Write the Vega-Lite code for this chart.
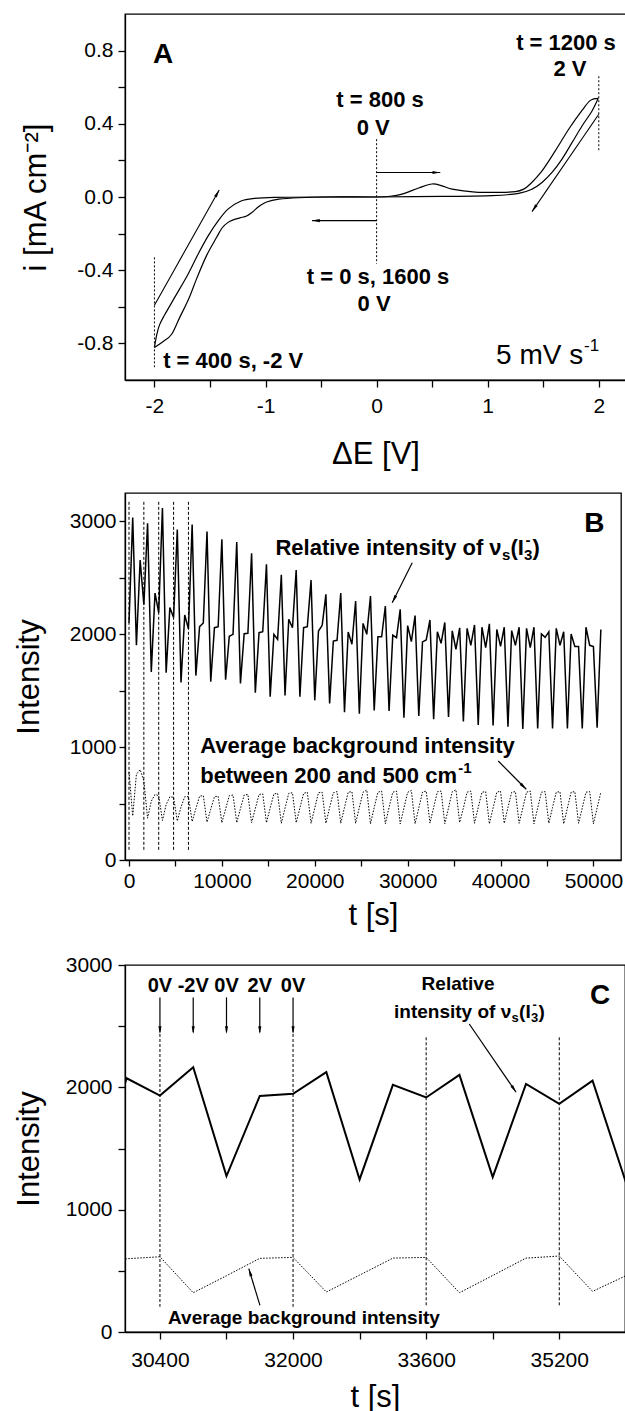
{
"$schema": "https://vega.github.io/schema/vega-lite/v6.json",
"padding": {"left": 12, "top": 13, "right": 1, "bottom": 0},
"background": "white",
"config": {
  "font": "Liberation Sans",
  "view": {"stroke": "black", "strokeWidth": 1.3},
  "axis": {"domainColor": "black", "domainWidth": 1.3, "tickColor": "black", "tickWidth": 1.3, "labelColor": "black", "titleColor": "black", "labelFont": "Liberation Sans", "titleFont": "Liberation Sans", "labelFontSize": 21, "titleFontSize": 31, "titleFontWeight": "normal", "grid": false, "labelOverlap": false, "labelFlush": false, "labelBound": false},
  "text": {"font": "Liberation Sans", "color": "black"}
},
"datasets": {
  "cv": [
    {"br":"a","o":0,"E":0,"i":0},{"br":"a","o":1,"E":-0.42,"i":0},{"br":"a","o":2,"E":-0.70,"i":-0.004},{"br":"a","o":3,"E":-0.88,"i":-0.012},{"br":"a","o":4,"E":-0.99,"i":-0.027},{"br":"a","o":5,"E":-1.06,"i":-0.052},{"br":"a","o":6,"E":-1.12,"i":-0.083},{"br":"a","o":7,"E":-1.17,"i":-0.104},{"br":"a","o":8,"E":-1.23,"i":-0.114},{"br":"a","o":9,"E":-1.29,"i":-0.125},{"br":"a","o":10,"E":-1.34,"i":-0.14},{"br":"a","o":11,"E":-1.39,"i":-0.168},{"br":"a","o":12,"E":-1.44,"i":-0.22},{"br":"a","o":13,"E":-1.53,"i":-0.319},{"br":"a","o":14,"E":-1.62,"i":-0.446},{"br":"a","o":15,"E":-1.69,"i":-0.555},{"br":"a","o":16,"E":-1.77,"i":-0.655},{"br":"a","o":17,"E":-1.845,"i":-0.75},{"br":"a","o":18,"E":-1.924,"i":-0.791},{"br":"a","o":19,"E":-2.0,"i":-0.822},
    {"br":"b","o":0,"E":-2.0,"i":-0.822},{"br":"b","o":1,"E":-1.98,"i":-0.755},{"br":"b","o":2,"E":-1.955,"i":-0.7},{"br":"b","o":3,"E":-1.91,"i":-0.646},{"br":"b","o":4,"E":-1.815,"i":-0.546},{"br":"b","o":5,"E":-1.695,"i":-0.419},{"br":"b","o":6,"E":-1.605,"i":-0.31},{"br":"b","o":7,"E":-1.515,"i":-0.211},{"br":"b","o":8,"E":-1.425,"i":-0.129},{"br":"b","o":9,"E":-1.335,"i":-0.065},{"br":"b","o":10,"E":-1.22,"i":-0.022},{"br":"b","o":11,"E":-1.10,"i":-0.008},{"br":"b","o":12,"E":-0.92,"i":-0.002},{"br":"b","o":13,"E":-0.56,"i":0},{"br":"b","o":14,"E":0,"i":0},
    {"br":"c","o":0,"E":0,"i":0},{"br":"c","o":1,"E":0.12,"i":0.004},{"br":"c","o":2,"E":0.229,"i":0.016},{"br":"c","o":3,"E":0.379,"i":0.049},{"br":"c","o":4,"E":0.499,"i":0.071},{"br":"c","o":5,"E":0.589,"i":0.061},{"br":"c","o":6,"E":0.679,"i":0.043},{"br":"c","o":7,"E":0.888,"i":0.027},{"br":"c","o":8,"E":1.099,"i":0.025},{"br":"c","o":9,"E":1.249,"i":0.029},{"br":"c","o":10,"E":1.324,"i":0.043},{"br":"c","o":11,"E":1.383,"i":0.071},{"br":"c","o":12,"E":1.489,"i":0.143},{"br":"c","o":13,"E":1.608,"i":0.252},{"br":"c","o":14,"E":1.729,"i":0.37},{"br":"c","o":15,"E":1.849,"i":0.473},{"br":"c","o":16,"E":1.924,"i":0.528},{"br":"c","o":17,"E":1.995,"i":0.539},
    {"br":"d","o":0,"E":1.995,"i":0.539},{"br":"d","o":1,"E":1.939,"i":0.47},{"br":"d","o":2,"E":1.849,"i":0.388},{"br":"d","o":3,"E":1.759,"i":0.297},{"br":"d","o":4,"E":1.669,"i":0.207},{"br":"d","o":5,"E":1.579,"i":0.134},{"br":"d","o":6,"E":1.489,"i":0.079},{"br":"d","o":7,"E":1.399,"i":0.043},{"br":"d","o":8,"E":1.279,"i":0.02},{"br":"d","o":9,"E":1.039,"i":0.007},{"br":"d","o":10,"E":0.589,"i":0.003},{"br":"d","o":11,"E":0,"i":0}
  ],
  "ts": [
    {"t":0,"rel":2100,"bg":780},{"t":400,"rel":3030,"bg":390},{"t":800,"rel":1900,"bg":760},{"t":1200,"rel":2655,"bg":800},
    {"t":1600,"rel":2260,"bg":700},{"t":2000,"rel":2980,"bg":370},{"t":2400,"rel":1665,"bg":520},{"t":2800,"rel":2362,"bg":580},
    {"t":3200,"rel":2190,"bg":570},{"t":3600,"rel":3115,"bg":350},{"t":4000,"rel":1658,"bg":490},{"t":4400,"rel":2235,"bg":560},
    {"t":4800,"rel":2146,"bg":555},{"t":5200,"rel":2925,"bg":345},{"t":5600,"rel":1572,"bg":470},{"t":6000,"rel":2168,"bg":560},
    {"t":6400,"rel":2045,"bg":560},{"t":6800,"rel":2968,"bg":340},{"t":7200,"rel":1632,"bg":455},{"t":7600,"rel":2065,"bg":565},
    {"t":8000,"rel":2098,"bg":570},{"t":8400,"rel":2908,"bg":335},{"t":8800,"rel":1578,"bg":450},{"t":9200,"rel":2056,"bg":560},
    {"t":9600,"rel":2065,"bg":565},{"t":10000,"rel":2838,"bg":330},{"t":10400,"rel":1596,"bg":450},{"t":10800,"rel":1980,"bg":570},
    {"t":11200,"rel":1997,"bg":575},{"t":11600,"rel":2814,"bg":330},{"t":12000,"rel":1563,"bg":455},{"t":12400,"rel":2003,"bg":575},
    {"t":12800,"rel":2006,"bg":580},{"t":13200,"rel":2714,"bg":330},{"t":13600,"rel":1481,"bg":455},{"t":14000,"rel":2012,"bg":580},
    {"t":14400,"rel":2021,"bg":585},{"t":14800,"rel":2617,"bg":330},{"t":15200,"rel":1445,"bg":460},{"t":15600,"rel":1997,"bg":585},
    {"t":16000,"rel":1953,"bg":590},{"t":16400,"rel":2525,"bg":325},{"t":16800,"rel":1457,"bg":460},{"t":17200,"rel":2130,"bg":590},
    {"t":17600,"rel":2056,"bg":595},{"t":18000,"rel":2566,"bg":330},{"t":18400,"rel":1445,"bg":460},{"t":18800,"rel":2056,"bg":590},
    {"t":19200,"rel":2065,"bg":600},{"t":19600,"rel":2478,"bg":325},{"t":20000,"rel":1413,"bg":460},{"t":20400,"rel":2027,"bg":595},
    {"t":20800,"rel":2077,"bg":600},{"t":21200,"rel":2351,"bg":325},{"t":21600,"rel":1386,"bg":465},{"t":22000,"rel":1938,"bg":595},
    {"t":22400,"rel":1944,"bg":605},{"t":22800,"rel":2363,"bg":325},{"t":23200,"rel":1307,"bg":465},{"t":23600,"rel":2018,"bg":600},
    {"t":24000,"rel":1909,"bg":605},{"t":24400,"rel":2292,"bg":325},{"t":24800,"rel":1295,"bg":465},{"t":25200,"rel":2094,"bg":600},
    {"t":25600,"rel":1997,"bg":620},{"t":26000,"rel":2336,"bg":320},{"t":26400,"rel":1324,"bg":465},{"t":26800,"rel":1976,"bg":600},
    {"t":27200,"rel":1976,"bg":610},{"t":27600,"rel":2248,"bg":320},{"t":28000,"rel":1319,"bg":465},{"t":28400,"rel":1991,"bg":600},
    {"t":28800,"rel":1968,"bg":610},{"t":29200,"rel":2218,"bg":320},{"t":29600,"rel":1260,"bg":460},{"t":30000,"rel":2074,"bg":599},
    {"t":30400,"rel":1933,"bg":615},{"t":30800,"rel":2164,"bg":321},{"t":31200,"rel":1274,"bg":460},{"t":31600,"rel":1930,"bg":602},
    {"t":32000,"rel":1947,"bg":610},{"t":32400,"rel":2124,"bg":327},{"t":32800,"rel":1247,"bg":465},{"t":33200,"rel":2020,"bg":604},
    {"t":33600,"rel":1917,"bg":610},{"t":34000,"rel":2102,"bg":321},{"t":34400,"rel":1266,"bg":462},{"t":34800,"rel":2028,"bg":604},
    {"t":35200,"rel":1865,"bg":621},{"t":35600,"rel":2055,"bg":332},{"t":36000,"rel":1225,"bg":460},{"t":36400,"rel":2050,"bg":600},
    {"t":36800,"rel":1900,"bg":610},{"t":37200,"rel":2080,"bg":325},{"t":37600,"rel":1195,"bg":465},{"t":38000,"rel":2060,"bg":600},
    {"t":38400,"rel":1880,"bg":605},{"t":38800,"rel":2090,"bg":320},{"t":39200,"rel":1190,"bg":460},{"t":39600,"rel":2040,"bg":600},
    {"t":40000,"rel":1890,"bg":610},{"t":40400,"rel":2060,"bg":325},{"t":40800,"rel":1180,"bg":465},{"t":41200,"rel":2030,"bg":600},
    {"t":41600,"rel":1900,"bg":605},{"t":42000,"rel":2060,"bg":325},{"t":42400,"rel":1160,"bg":460},{"t":42800,"rel":2050,"bg":600},
    {"t":43200,"rel":1880,"bg":610},{"t":43600,"rel":2060,"bg":320},{"t":44000,"rel":1165,"bg":460},{"t":44400,"rel":2000,"bg":600},
    {"t":44800,"rel":1970,"bg":605},{"t":45200,"rel":2020,"bg":325},{"t":45600,"rel":1165,"bg":465},{"t":46000,"rel":2050,"bg":600},
    {"t":46400,"rel":1900,"bg":605},{"t":46800,"rel":2020,"bg":320},{"t":47200,"rel":1165,"bg":460},{"t":47600,"rel":2000,"bg":600},
    {"t":48000,"rel":1890,"bg":605},{"t":48400,"rel":1890,"bg":325},{"t":48800,"rel":1165,"bg":460},{"t":49200,"rel":2060,"bg":600},
    {"t":49600,"rel":1900,"bg":605},{"t":50000,"rel":1890,"bg":320},{"t":50400,"rel":1170,"bg":460},{"t":50800,"rel":2040,"bg":600}
  ]
},
"bounds": "flush",
"spacing": 113,
"vconcat": [
  {
    "width": 501, "height": 366,
    "layer": [
      {"data": {"name": "cv"}, "mark": {"type": "line", "color": "black", "strokeWidth": 1.2, "interpolate": "cardinal"},
       "encoding": {
         "x": {"field": "E", "type": "quantitative", "title": "ΔE [V]", "scale": {"domain": [-2.265, 2.245], "nice": false, "zero": false},
               "axis": {"values": [-2, -1.5, -1, -0.5, 0, 0.5, 1, 1.5, 2], "labelExpr": "datum.value % 1 == 0 ? replace(format(datum.value, 'd'), '\u2212', '-') : ''", "tickSize": 7, "labelPadding": 8, "titlePadding": 23}},
         "y": {"field": "i", "type": "quantitative", "title": "i  [mA cm⁻²]", "scale": {"domain": [-1, 1], "nice": false, "zero": false},
               "axis": {"values": [-0.8, -0.6, -0.4, -0.2, 0, 0.2, 0.4, 0.6, 0.8], "labelExpr": "abs(round(datum.value * 10)) % 4 == 0 ? replace(format(datum.value, '.1f'), '\u2212', '-') : ''", "tickSize": 7, "labelPadding": 5, "titlePadding": 24}},
         "detail": {"field": "br"},
         "order": {"field": "o"}
       }},
      {"data": {"values": [{"x": -2, "y": -0.33, "y2": -0.93}, {"x": 0, "y": 0.316, "y2": -0.365}, {"x": 2, "y": 0.66, "y2": 0.252}]},
       "mark": {"type": "rule", "color": "black", "strokeWidth": 1, "strokeDash": [2, 2]},
       "encoding": {"x": {"field": "x", "type": "quantitative"}, "y": {"field": "y", "type": "quantitative"}, "y2": {"field": "y2"}}},
      {"data": {"values": [{"x": 0, "y": 0.134, "x2": 0.573, "y2": 0.134}, {"x": 0, "y": -0.129, "x2": -0.581, "y2": -0.129}, {"x": -2, "y": -0.591, "x2": -1.417, "y2": 0.038}, {"x": 2, "y": 0.452, "x2": 1.399, "y2": -0.08}]},
       "mark": {"type": "rule", "color": "black", "strokeWidth": 1.1},
       "encoding": {"x": {"field": "x", "type": "quantitative"}, "y": {"field": "y", "type": "quantitative"}, "x2": {"field": "x2"}, "y2": {"field": "y2"}}},
      {"data": {"values": [{}]}, "mark": {"type": "point", "shape": "M0,0L-0.4,2L0.4,2Z", "filled": true, "color": "black", "opacity": 1, "size": 60, "angle": 90},
       "encoding": {"x": {"datum": 0.573, "type": "quantitative"}, "y": {"datum": 0.134, "type": "quantitative"}}},
      {"data": {"values": [{}]}, "mark": {"type": "point", "shape": "M0,0L-0.4,2L0.4,2Z", "filled": true, "color": "black", "opacity": 1, "size": 60, "angle": 270},
       "encoding": {"x": {"datum": -0.581, "type": "quantitative"}, "y": {"datum": -0.129, "type": "quantitative"}}},
      {"data": {"values": [{}]}, "mark": {"type": "point", "shape": "M0,0L-0.4,2L0.4,2Z", "filled": true, "color": "black", "opacity": 1, "size": 60, "angle": 29},
       "encoding": {"x": {"datum": -1.417, "type": "quantitative"}, "y": {"datum": 0.038, "type": "quantitative"}}},
      {"data": {"values": [{}]}, "mark": {"type": "point", "shape": "M0,0L-0.4,2L0.4,2Z", "filled": true, "color": "black", "opacity": 1, "size": 60, "angle": 214},
       "encoding": {"x": {"datum": 1.399, "type": "quantitative"}, "y": {"datum": -0.08, "type": "quantitative"}}},
      {"data": {"values": [{"x": 1.705, "y": 0.842, "label": "t = 1200 s"}, {"x": 1.741, "y": 0.697, "label": "2 V"}, {"x": 0.031, "y": 0.528, "label": "t = 800 s"}, {"x": -0.031, "y": 0.379, "label": "0 V"}, {"x": 0.013, "y": -0.437, "label": "t = 0 s, 1600 s"}, {"x": -0.023, "y": -0.582, "label": "0 V"}, {"x": -1.291, "y": -0.896, "label": "t = 400 s, -2 V"}]},
       "mark": {"type": "text", "fontSize": 22, "fontWeight": "bold", "align": "center", "baseline": "middle"},
       "encoding": {"x": {"field": "x", "type": "quantitative"}, "y": {"field": "y", "type": "quantitative"}, "text": {"field": "label"}}},
      {"data": {"values": [{}]}, "mark": {"type": "text", "text": "A", "fontSize": 28, "fontWeight": "bold", "align": "center", "baseline": "middle"},
       "encoding": {"x": {"datum": -1.921, "type": "quantitative"}, "y": {"datum": 0.778, "type": "quantitative"}}},
      {"data": {"values": [{}]}, "mark": {"type": "text", "text": "5 mV s", "fontSize": 28, "align": "left", "baseline": "alphabetic"},
       "encoding": {"x": {"datum": 1.075, "type": "quantitative"}, "y": {"datum": -0.913, "type": "quantitative"}}},
      {"data": {"values": [{}]}, "mark": {"type": "text", "text": "-1", "fontSize": 17, "align": "left", "baseline": "alphabetic", "dx": 88, "dy": -13},
       "encoding": {"x": {"datum": 1.075, "type": "quantitative"}, "y": {"datum": -0.913, "type": "quantitative"}}}
    ]
  },
  {
    "bounds": "flush",
    "spacing": 105,
    "vconcat": [
      {
        "width": 496, "height": 367,
        "layer": [
          {"data": {"name": "ts"}, "mark": {"type": "line", "color": "black", "strokeWidth": 1.5},
           "encoding": {
             "x": {"field": "t", "type": "quantitative", "title": "t [s]", "scale": {"domain": [-430, 52970], "nice": false, "zero": false},
                   "axis": {"values": [0, 5000, 10000, 15000, 20000, 25000, 30000, 35000, 40000, 45000, 50000], "labelExpr": "datum.value % 10000 == 0 ? format(datum.value, 'd') : ''", "tickSize": 6, "labelPadding": 4, "titlePadding": 9}},
             "y": {"field": "rel", "type": "quantitative", "title": "Intensity", "scale": {"domain": [0, 3248], "nice": false, "zero": false},
                   "axis": {"values": [0, 500, 1000, 1500, 2000, 2500, 3000], "labelExpr": "datum.value % 1000 == 0 ? format(datum.value, 'd') : ''", "tickSize": 6, "labelPadding": 3, "titlePadding": 24}}
           }},
          {"data": {"name": "ts"}, "mark": {"type": "line", "color": "black", "strokeWidth": 1, "strokeDash": [1.5, 1.5]},
           "encoding": {"x": {"field": "t", "type": "quantitative"}, "y": {"field": "bg", "type": "quantitative"}}},
          {"data": {"values": [{"t": 0}, {"t": 1600}, {"t": 3200}, {"t": 4800}, {"t": 6400}]},
           "mark": {"type": "rule", "color": "black", "strokeWidth": 1, "strokeDash": [3, 2]},
           "encoding": {"x": {"field": "t", "type": "quantitative"}, "y": {"datum": 3170, "type": "quantitative"}, "y2": {"datum": 80}}},
          {"data": {"values": [{"x": 30494, "y": 2631, "x2": 28340, "y2": 2277}, {"x": 39754, "y": 876, "x2": 42769, "y2": 626}]},
           "mark": {"type": "rule", "color": "black", "strokeWidth": 1.2},
           "encoding": {"x": {"field": "x", "type": "quantitative"}, "y": {"field": "y", "type": "quantitative"}, "x2": {"field": "x2"}, "y2": {"field": "y2"}}},
          {"data": {"values": [{}]}, "mark": {"type": "point", "shape": "M0,0L-0.4,2L0.4,2Z", "filled": true, "color": "black", "opacity": 1, "size": 60, "angle": 207},
           "encoding": {"x": {"datum": 28340, "type": "quantitative"}, "y": {"datum": 2277, "type": "quantitative"}}},
          {"data": {"values": [{}]}, "mark": {"type": "point", "shape": "M0,0L-0.4,2L0.4,2Z", "filled": true, "color": "black", "opacity": 1, "size": 60, "angle": 135},
           "encoding": {"x": {"datum": 42769, "type": "quantitative"}, "y": {"datum": 626, "type": "quantitative"}}},
          {"data": {"values": [{}]}, "mark": {"type": "text", "text": "B", "fontSize": 28, "fontWeight": "bold", "align": "center", "baseline": "middle"},
           "encoding": {"x": {"datum": 50090, "type": "quantitative"}, "y": {"datum": 2973, "type": "quantitative"}}},
          {"data": {"values": [{}]}, "mark": {"type": "text", "text": "Relative intensity of ν", "fontSize": 22, "fontWeight": "bold", "align": "left", "baseline": "alphabetic"},
           "encoding": {"x": {"datum": 15764, "type": "quantitative"}, "y": {"datum": 2700, "type": "quantitative"}}},
          {"data": {"values": [{}]}, "mark": {"type": "text", "text": "s", "fontSize": 15, "fontWeight": "bold", "align": "left", "baseline": "alphabetic", "dx": 226.5, "dy": 5},
           "encoding": {"x": {"datum": 15764, "type": "quantitative"}, "y": {"datum": 2700, "type": "quantitative"}}},
          {"data": {"values": [{}]}, "mark": {"type": "text", "text": "(I", "fontSize": 22, "fontWeight": "bold", "align": "left", "baseline": "alphabetic", "dx": 235},
           "encoding": {"x": {"datum": 15764, "type": "quantitative"}, "y": {"datum": 2700, "type": "quantitative"}}},
          {"data": {"values": [{}]}, "mark": {"type": "text", "text": "3", "fontSize": 15, "fontWeight": "bold", "align": "left", "baseline": "alphabetic", "dx": 248.5, "dy": 5},
           "encoding": {"x": {"datum": 15764, "type": "quantitative"}, "y": {"datum": 2700, "type": "quantitative"}}},
          {"data": {"values": [{}]}, "mark": {"type": "text", "text": "-", "fontSize": 15, "fontWeight": "bold", "align": "left", "baseline": "alphabetic", "dx": 250, "dy": -10},
           "encoding": {"x": {"datum": 15764, "type": "quantitative"}, "y": {"datum": 2700, "type": "quantitative"}}},
          {"data": {"values": [{}]}, "mark": {"type": "text", "text": ")", "fontSize": 22, "fontWeight": "bold", "align": "left", "baseline": "alphabetic", "dx": 257},
           "encoding": {"x": {"datum": 15764, "type": "quantitative"}, "y": {"datum": 2700, "type": "quantitative"}}},
          {"data": {"values": [{"x": 7666, "y": 947, "label": "Average background intensity"}, {"x": 7666, "y": 681, "label": "between 200 and 500 cm"}]},
           "mark": {"type": "text", "fontSize": 22, "fontWeight": "bold", "align": "left", "baseline": "alphabetic"},
           "encoding": {"x": {"field": "x", "type": "quantitative"}, "y": {"field": "y", "type": "quantitative"}, "text": {"field": "label"}}},
          {"data": {"values": [{}]}, "mark": {"type": "text", "text": "-1", "fontSize": 15, "fontWeight": "bold", "align": "left", "baseline": "alphabetic", "dx": 258, "dy": -10},
           "encoding": {"x": {"datum": 7666, "type": "quantitative"}, "y": {"datum": 681, "type": "quantitative"}}}
        ]
      },
      {
        "width": 500, "height": 367,
        "layer": [
          {"data": {"name": "ts"}, "transform": [{"filter": "datum.t >= 29600 && datum.t <= 36400"}],
           "mark": {"type": "line", "color": "black", "strokeWidth": 2, "clip": true},
           "encoding": {
             "x": {"field": "t", "type": "quantitative", "title": "t [s]", "scale": {"domain": [29980, 35990], "nice": false, "zero": false},
                   "axis": {"values": [30400, 31200, 32000, 32800, 33600, 34400, 35200], "labelExpr": "(datum.value - 30400) % 1600 == 0 ? format(datum.value, 'd') : ''", "tickSize": 7, "labelPadding": 10, "titlePadding": 12}},
             "y": {"field": "rel", "type": "quantitative", "title": "Intensity", "scale": {"domain": [0, 3000], "nice": false, "zero": false},
                   "axis": {"values": [0, 500, 1000, 1500, 2000, 2500, 3000], "labelExpr": "datum.value % 1000 == 0 ? format(datum.value, 'd') : ''", "tickSize": 7, "labelPadding": 6, "titlePadding": 20}}
           }},
          {"data": {"name": "ts"}, "transform": [{"filter": "datum.t >= 29600 && datum.t <= 36400"}],
           "mark": {"type": "line", "color": "black", "strokeWidth": 1, "strokeDash": [1.5, 1.5], "clip": true},
           "encoding": {"x": {"field": "t", "type": "quantitative"}, "y": {"field": "bg", "type": "quantitative"}}},
          {"data": {"values": [{"t": 30400, "y": 2436}, {"t": 32000, "y": 2436}, {"t": 33600, "y": 2409}, {"t": 35200, "y": 2409}]},
           "mark": {"type": "rule", "color": "black", "strokeWidth": 1, "strokeDash": [3, 2]},
           "encoding": {"x": {"field": "t", "type": "quantitative"}, "y": {"field": "y", "type": "quantitative"}, "y2": {"datum": 206}}},
          {"data": {"values": [{"t": 30400}, {"t": 30800}, {"t": 31200}, {"t": 31600}, {"t": 32000}]},
           "mark": {"type": "rule", "color": "black", "strokeWidth": 1.2},
           "encoding": {"x": {"field": "t", "type": "quantitative"}, "y": {"datum": 2735, "type": "quantitative"}, "y2": {"datum": 2450}}},
          {"data": {"values": [{"t": 30400}, {"t": 30800}, {"t": 31200}, {"t": 31600}, {"t": 32000}]},
           "mark": {"type": "point", "shape": "M0,0L-0.4,2L0.4,2Z", "filled": true, "color": "black", "opacity": 1, "size": 60, "angle": 180},
           "encoding": {"x": {"field": "t", "type": "quantitative"}, "y": {"datum": 2436, "type": "quantitative"}}},
          {"data": {"values": [{"t": 30400, "label": "0V"}, {"t": 30800, "label": "-2V"}, {"t": 31200, "label": "0V"}, {"t": 31600, "label": "2V"}, {"t": 32000, "label": "0V"}]},
           "mark": {"type": "text", "fontSize": 20, "fontWeight": "bold", "align": "center", "baseline": "middle"},
           "encoding": {"x": {"field": "t", "type": "quantitative"}, "y": {"datum": 2831, "type": "quantitative"}, "text": {"field": "label"}}},
          {"data": {"values": [{"x": 34118, "y": 2518, "x2": 34681, "y2": 1960}, {"x": 31602, "y": 218, "x2": 31468, "y2": 518}]},
           "mark": {"type": "rule", "color": "black", "strokeWidth": 1.2},
           "encoding": {"x": {"field": "x", "type": "quantitative"}, "y": {"field": "y", "type": "quantitative"}, "x2": {"field": "x2"}, "y2": {"field": "y2"}}},
          {"data": {"values": [{}]}, "mark": {"type": "point", "shape": "M0,0L-0.4,2L0.4,2Z", "filled": true, "color": "black", "opacity": 1, "size": 60, "angle": 146},
           "encoding": {"x": {"datum": 34681, "type": "quantitative"}, "y": {"datum": 1960, "type": "quantitative"}}},
          {"data": {"values": [{}]}, "mark": {"type": "point", "shape": "M0,0L-0.4,2L0.4,2Z", "filled": true, "color": "black", "opacity": 1, "size": 60, "angle": 343},
           "encoding": {"x": {"datum": 31468, "type": "quantitative"}, "y": {"datum": 518, "type": "quantitative"}}},
          {"data": {"values": [{}]}, "mark": {"type": "text", "text": "C", "fontSize": 28, "fontWeight": "bold", "align": "center", "baseline": "middle"},
           "encoding": {"x": {"datum": 35691, "type": "quantitative"}, "y": {"datum": 2749, "type": "quantitative"}}},
          {"data": {"values": [{"x": 33983, "y": 2848, "label": "Relative"}, {"x": 32131, "y": 114, "label": "Average background intensity"}]},
           "mark": {"type": "text", "fontSize": 19, "fontWeight": "bold", "align": "center", "baseline": "middle"},
           "encoding": {"x": {"field": "x", "type": "quantitative"}, "y": {"field": "y", "type": "quantitative"}, "text": {"field": "label"}}},
          {"data": {"values": [{}]}, "mark": {"type": "text", "text": "intensity of ν", "fontSize": 19, "fontWeight": "bold", "align": "left", "baseline": "alphabetic"},
           "encoding": {"x": {"datum": 33214, "type": "quantitative"}, "y": {"datum": 2564, "type": "quantitative"}}},
          {"data": {"values": [{}]}, "mark": {"type": "text", "text": "s", "fontSize": 13, "fontWeight": "bold", "align": "left", "baseline": "alphabetic", "dx": 117.5, "dy": 4},
           "encoding": {"x": {"datum": 33214, "type": "quantitative"}, "y": {"datum": 2564, "type": "quantitative"}}},
          {"data": {"values": [{}]}, "mark": {"type": "text", "text": "(I", "fontSize": 19, "fontWeight": "bold", "align": "left", "baseline": "alphabetic", "dx": 125},
           "encoding": {"x": {"datum": 33214, "type": "quantitative"}, "y": {"datum": 2564, "type": "quantitative"}}},
          {"data": {"values": [{}]}, "mark": {"type": "text", "text": "3", "fontSize": 13, "fontWeight": "bold", "align": "left", "baseline": "alphabetic", "dx": 137, "dy": 4},
           "encoding": {"x": {"datum": 33214, "type": "quantitative"}, "y": {"datum": 2564, "type": "quantitative"}}},
          {"data": {"values": [{}]}, "mark": {"type": "text", "text": "-", "fontSize": 13, "fontWeight": "bold", "align": "left", "baseline": "alphabetic", "dx": 138.5, "dy": -9},
           "encoding": {"x": {"datum": 33214, "type": "quantitative"}, "y": {"datum": 2564, "type": "quantitative"}}},
          {"data": {"values": [{}]}, "mark": {"type": "text", "text": ")", "fontSize": 19, "fontWeight": "bold", "align": "left", "baseline": "alphabetic", "dx": 144.5},
           "encoding": {"x": {"datum": 33214, "type": "quantitative"}, "y": {"datum": 2564, "type": "quantitative"}}}
        ]
      }
    ]
  }
]
}
